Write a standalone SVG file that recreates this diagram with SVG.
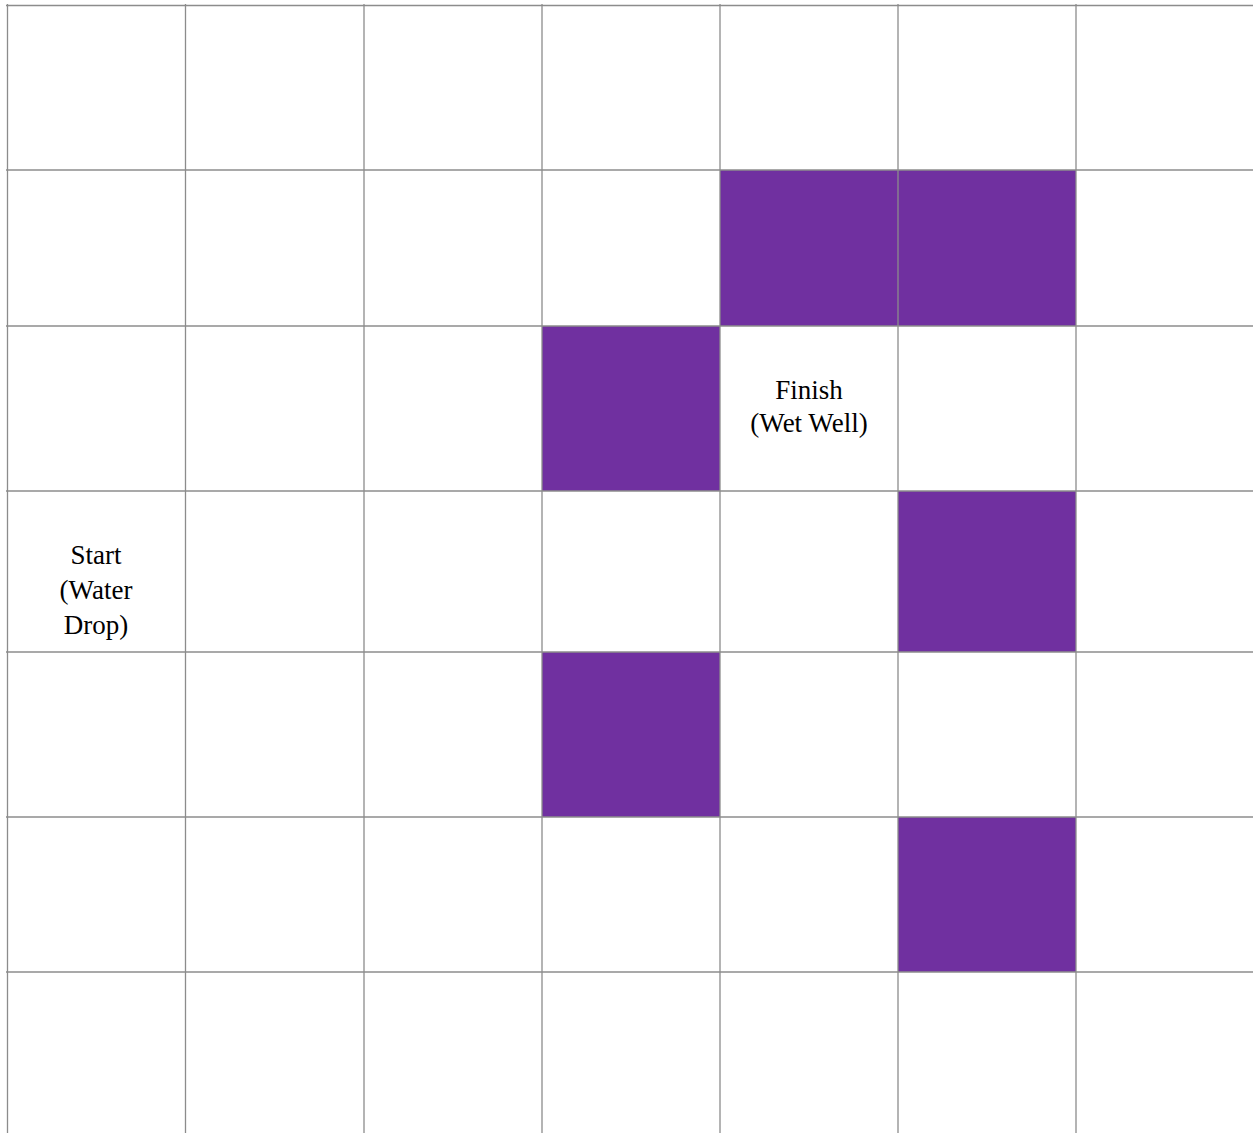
<svg xmlns="http://www.w3.org/2000/svg" width="1253" height="1133" viewBox="0 0 1253 1133">
<style>
.g{stroke:#8c8c8c;stroke-width:1.3;fill:none}
.p{fill:#7030A0}
.t{font-family:"Liberation Serif","Times New Roman",serif;font-size:27px;fill:#000;text-anchor:middle}
</style>
<rect width="1253" height="1133" fill="#fff"/>
<g id="cells">
<rect class="p" x="720" y="170" width="178" height="156"/>
<rect class="p" x="898" y="170" width="178" height="156"/>
<rect class="p" x="542" y="326" width="178" height="165"/>
<rect class="p" x="898" y="491" width="178" height="161"/>
<rect class="p" x="542" y="652" width="178" height="165"/>
<rect class="p" x="898" y="817" width="178" height="155"/>
</g>
<g id="grid">
<line class="g" x1="6" y1="5.5" x2="1253" y2="5.5"/>
<line class="g" x1="6" y1="170" x2="1253" y2="170"/>
<line class="g" x1="6" y1="326" x2="1253" y2="326"/>
<line class="g" x1="6" y1="491" x2="1253" y2="491"/>
<line class="g" x1="6" y1="652" x2="1253" y2="652"/>
<line class="g" x1="6" y1="817" x2="1253" y2="817"/>
<line class="g" x1="6" y1="972" x2="1253" y2="972"/>
<line class="g" x1="7.5" y1="4" x2="7.5" y2="1133"/>
<line class="g" x1="185.5" y1="4" x2="185.5" y2="1133"/>
<line class="g" x1="364" y1="4" x2="364" y2="1133"/>
<line class="g" x1="542" y1="4" x2="542" y2="1133"/>
<line class="g" x1="720" y1="4" x2="720" y2="1133"/>
<line class="g" x1="898" y1="4" x2="898" y2="1133"/>
<line class="g" x1="1076" y1="4" x2="1076" y2="1133"/>
</g>
<g id="finish">
<text class="t" x="809" y="399">Finish</text>
<text class="t" x="809" y="432">(Wet Well)</text>
</g>
<g id="start">
<text class="t" x="96" y="564">Start</text>
<text class="t" x="96" y="599">(Water</text>
<text class="t" x="96" y="634">Drop)</text>
</g>
</svg>
